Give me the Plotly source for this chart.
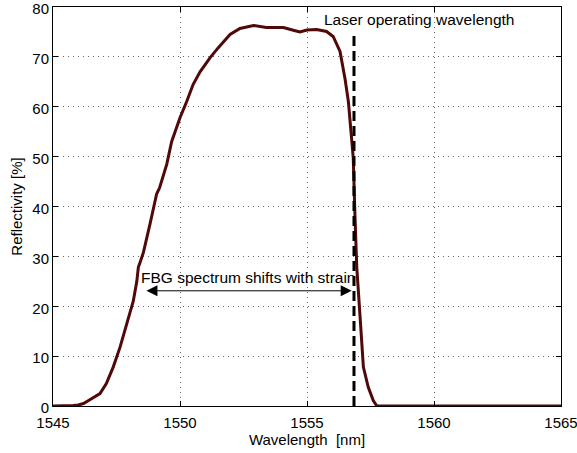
import plotly.graph_objects as go

wavelength = [1545.0, 1545.5, 1545.8, 1546.0, 1546.2, 1546.4, 1546.6, 1546.85, 1547.1, 1547.37,
              1547.64, 1547.9, 1548.16, 1548.3, 1548.36, 1548.43, 1548.56, 1548.82, 1549.08, 1549.2,
              1549.48, 1549.67, 1550.0, 1550.26, 1550.52, 1550.79, 1551.18, 1551.5, 1551.97, 1552.36,
              1552.89, 1553.4, 1554.07, 1554.5, 1554.72, 1555.0, 1555.38, 1555.77, 1556.03, 1556.3,
              1556.5, 1556.63, 1556.69, 1556.82, 1556.89, 1556.96, 1557.09, 1557.22, 1557.41, 1557.61,
              1557.75, 1560.0, 1565.0]
reflectivity = [0, 0, 0.1, 0.2, 0.5, 1.1, 1.8, 2.5, 4.5, 7.8,
                11.8, 16.5, 21, 25, 27.8, 28.8, 30.8, 36.5, 42.5, 43.8,
                48.5, 53, 57.8, 61, 64.5, 67, 69.8, 71.8, 74.5, 75.7,
                76.3, 75.9, 75.9, 75.3, 75.0, 75.4, 75.5, 75.1, 74.1, 71.1,
                65.5, 61, 57, 49.8, 37.8, 27.8, 17.8, 7.8, 3.8, 1.1,
                0, 0, 0]

laser_wavelength = [1556.85, 1556.85]
laser_line_y = [0, 74.8]

arrow_start = 1548.62
arrow_end = 1556.76
arrow_y = 23.1

x_ticks = [1545, 1550, 1555, 1560, 1565]
y_ticks = [0, 10, 20, 30, 40, 50, 60, 70, 80]

FONT = "Liberation Sans, Arial, Helvetica, sans-serif"

fig = go.Figure()
fig.add_trace(go.Scatter(x=wavelength, y=reflectivity, mode="lines",
                         line=dict(color="#500808", width=3), showlegend=False))
fig.add_trace(go.Scatter(x=laser_wavelength, y=laser_line_y, mode="lines",
                         line=dict(color="black", width=3, dash="10px,5px"), showlegend=False))

fig.add_annotation(x=arrow_end, y=arrow_y, ax=arrow_start, ay=arrow_y,
                   xref="x", yref="y", axref="x", ayref="y", text="",
                   showarrow=True, arrowside="end+start", arrowhead=2,
                   arrowsize=2.2, arrowwidth=1, arrowcolor="black")
fig.add_annotation(x=1548.39, y=25.8, xref="x", yref="y", text="FBG spectrum shifts with strain",
                   showarrow=False, xanchor="left", yanchor="middle",
                   font=dict(family=FONT, size=15.5, color="black"))
fig.add_annotation(x=1555.58, y=77.5, xref="x", yref="y", text="Laser operating wavelength",
                   showarrow=False, xanchor="left", yanchor="middle",
                   font=dict(family=FONT, size=15.5, color="black"))

axis_common = dict(showline=True, linecolor="black", linewidth=1, mirror="ticks",
                   ticks="inside", ticklen=5, tickcolor="black",
                   showgrid=True, gridcolor="#666", gridwidth=1, griddash="1px,4px",
                   zeroline=False, ticklabeloverflow="allow",
                   tickfont=dict(family=FONT, size=15, color="black"))

fig.update_xaxes(range=[1545, 1565], tickvals=x_ticks, ticklabelstandoff=3,
                 title=dict(text="Wavelength  [nm]", font=dict(family=FONT, size=15, color="black"), standoff=2),
                 **axis_common)
fig.update_yaxes(range=[0, 80], tickvals=y_ticks, ticklabelshift=2,
                 title=dict(text="Reflectivity [%]", font=dict(family=FONT, size=15, color="black"), standoff=6),
                 **axis_common)

fig.update_layout(width=577, height=453, margin=dict(l=53, r=16, t=7, b=47, autoexpand=False),
                  plot_bgcolor="white", paper_bgcolor="white", font=dict(family=FONT))

fig.write_html("out.html", config={"displayModeBar": False},
               post_script="document.body.style.margin='0';")
